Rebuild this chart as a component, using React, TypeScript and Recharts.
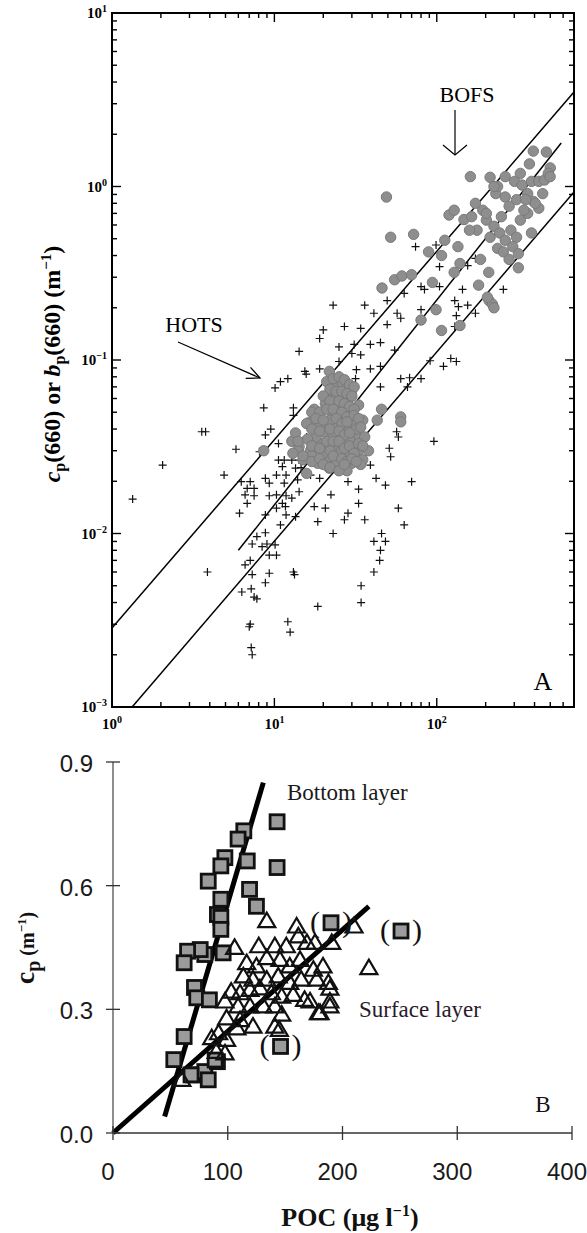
import React from 'react';
import {
  ScatterChart,
  Scatter,
  XAxis,
  YAxis,
  ReferenceLine,
  ReferenceArea,
} from 'recharts';

// ---- Panel A data: POC (x) vs cp(660)/bp(660) (y), log-log ----
const hotsPoints = [
  [74, 0.45], [99, 0.46], [104, 0.345], [173, 0.385], [155, 0.35], [80, 0.265], [84, 0.255],
  [104, 0.265], [144, 0.255], [257, 0.255], [49.5, 0.22], [63, 0.242], [129, 0.22], [136, 0.203],
  [155, 0.207], [173, 0.186], [23, 0.207], [36, 0.207], [41, 0.186], [57, 0.186], [60, 0.174],
  [80, 0.195], [132, 0.18], [129, 0.156], [20, 0.149], [27, 0.156], [34, 0.152], [49.5, 0.16],
  [19, 0.133], [25, 0.119], [31, 0.123], [39, 0.123], [45, 0.126], [14.2, 0.112], [30, 0.109],
  [34, 0.107], [55, 0.114], [25, 0.098], [91, 0.099], [122, 0.102], [132, 0.098], [110, 0.092],
  [32, 0.088], [39, 0.089], [45, 0.092], [60, 0.078], [68, 0.079], [80, 0.078], [19, 0.089],
  [15.4, 0.086], [15.7, 0.083], [10.1, 0.069], [10.9, 0.075], [12.1, 0.078], [31.6, 0.078],
  [45, 0.07], [66, 0.07], [8.6, 0.053], [13.1, 0.053], [13.1, 0.048], [21.2, 0.055], [8.8, 0.037],
  [9.5, 0.04], [10.6, 0.033], [15.8, 0.036], [3.57, 0.0386], [3.77, 0.0386], [5.8, 0.0306],
  [8.1, 0.0296], [10.6, 0.0265], [11.5, 0.0265], [12.8, 0.0265], [14.2, 0.0265], [11.2, 0.0243],
  [13.5, 0.0238], [14.6, 0.024], [2.05, 0.0248], [4.9, 0.0217], [6.25, 0.0199], [7.1, 0.0199],
  [6.8, 0.0182], [7.5, 0.0182], [8.8, 0.0208], [10.3, 0.0217], [11.8, 0.0217], [9.3, 0.0195],
  [11.5, 0.0195], [13.9, 0.0204], [16.7, 0.0217], [19, 0.0208], [6.6, 0.0167], [7.5, 0.0165],
  [9.3, 0.0165], [10.3, 0.0167], [11.8, 0.0165], [12.8, 0.016], [14.2, 0.0174], [6.1, 0.0131],
  [6.8, 0.0149], [8.8, 0.0128], [10.3, 0.014], [11.2, 0.0149], [11.7, 0.0143], [11.8, 0.0128],
  [13.5, 0.0125], [10.9, 0.0112], [17.6, 0.0143], [20.6, 0.014], [22.3, 0.0167], [28.4, 0.0131],
  [27, 0.012], [33, 0.0149], [36, 0.012], [18.5, 0.0117], [23, 0.01], [28.4, 0.0199], [33, 0.018],
  [39, 0.0248], [42.3, 0.0208], [48.3, 0.019], [51, 0.031], [52, 0.0277], [56.6, 0.0386],
  [58, 0.036], [58, 0.014], [63, 0.0112], [70, 0.0199], [96, 0.034], [45.7, 0.01], [41, 0.009],
  [48.3, 0.009], [45, 0.008], [44.5, 0.007], [41, 0.006], [34.2, 0.005], [34.2, 0.004],
  [18.5, 0.0038], [13.1, 0.006], [13.3, 0.0058], [12.1, 0.0031], [12.5, 0.0027], [7.1, 0.003],
  [7.0, 0.0029], [7.2, 0.0022], [7.3, 0.002], [6.3, 0.0046], [7.2, 0.0048], [7.5, 0.0043],
  [7.8, 0.0042], [7.3, 0.0058], [8.8, 0.0052], [9.3, 0.0059], [6.6, 0.0066], [7.1, 0.007],
  [9.3, 0.0075], [10.3, 0.0075], [8.4, 0.0084], [9.0, 0.0087], [10.1, 0.0086], [7.3, 0.0087],
  [7.8, 0.0096], [8.8, 0.0101], [3.87, 0.006], [1.34, 0.0158],
];

const bofsPoints = [
  [49, 0.87], [52, 0.51], [72, 0.53], [161, 1.14], [393, 1.6], [473, 1.58], [372, 1.35], [500, 1.28],
  [213, 1.13], [119, 0.685], [128, 0.73], [147, 0.645], [135, 0.45], [112, 0.49], [89, 0.42],
  [107, 0.4], [139, 0.36], [128, 0.32], [94, 0.28], [46, 0.26], [55, 0.29], [61, 0.305], [70, 0.31],
  [99, 0.195], [80, 0.17], [107, 0.148], [139, 0.158], [186, 0.38], [181, 0.27], [209, 0.32],
  [210, 0.22], [220, 0.21], [225, 0.2], [205, 0.23], [318, 0.34], [264, 1.14], [301, 1.07],
  [335, 1.02], [383, 1.07], [425, 1.07], [231, 0.91], [264, 0.87], [310, 0.84], [363, 0.91],
  [394, 0.82], [425, 0.75], [173, 0.8], [192, 0.73], [202, 0.64], [225, 0.59], [244, 0.54],
  [264, 0.49], [286, 0.56], [310, 0.51], [294, 0.45], [318, 0.41], [237, 0.44], [257, 0.42],
  [213, 0.51], [202, 0.7], [164, 0.67], [177, 0.56], [159, 0.56], [363, 0.7], [404, 0.8],
  [461, 1.09], [486, 1.19], [344, 0.73], [279, 0.77], [237, 1.0], [327, 1.19], [353, 0.84],
  [449, 0.91], [499, 1.14], [250, 0.67], [327, 0.64], [383, 0.54], [279, 0.38], [225, 1.0],
  [21.8, 0.086], [23.6, 0.07], [27, 0.075], [25.5, 0.0615], [29, 0.063], [20.6, 0.0615],
  [26.2, 0.073], [23, 0.064], [30, 0.067], [20.6, 0.056], [33, 0.055], [17.6, 0.052], [27, 0.049],
  [35, 0.045], [16.3, 0.0435], [21.8, 0.043], [30, 0.041], [20.6, 0.038], [25.5, 0.036],
  [31.6, 0.037], [19.5, 0.033], [24.2, 0.0317], [31.6, 0.0317], [12.8, 0.034], [14.2, 0.0317],
  [16.7, 0.03], [21.8, 0.0277], [27, 0.0284], [33, 0.03], [18.5, 0.0254], [21.8, 0.0238],
  [15.8, 0.0222], [15, 0.0266], [45.7, 0.052], [60, 0.047], [60, 0.044], [43, 0.045], [15.8, 0.043],
  [8.6, 0.03], [23, 0.049], [28.4, 0.059], [24.2, 0.041], [30, 0.0254], [35, 0.0266], [21.8, 0.0317],
  [27, 0.033], [22, 0.045], [25, 0.055], [28, 0.04], [19, 0.042], [23, 0.037], [26, 0.03],
  [29, 0.035], [32, 0.043], [18, 0.036], [20, 0.029], [24, 0.026], [28, 0.023], [17, 0.028],
  [13.5, 0.038], [14, 0.03], [36, 0.036], [38, 0.03], [34, 0.025], [29, 0.05], [24, 0.06],
  [21, 0.075], [23, 0.078], [25, 0.08], [27, 0.077], [29, 0.072], [31, 0.07], [22, 0.068],
  [24, 0.066], [26, 0.066], [28, 0.064], [30, 0.062], [20, 0.062], [22, 0.058], [25, 0.058],
  [27, 0.056], [29, 0.054], [31, 0.052], [17, 0.05], [19, 0.05], [21, 0.052], [23, 0.052],
  [26, 0.05], [28, 0.047], [31, 0.048], [33, 0.046], [18, 0.046], [20, 0.045], [24, 0.046],
  [26, 0.043], [28, 0.044], [32, 0.04], [34, 0.041], [17, 0.04], [19, 0.039], [22, 0.04],
  [25, 0.039], [27, 0.037], [29, 0.038], [14, 0.034], [16, 0.035], [17, 0.032], [19, 0.031],
  [21, 0.034], [23, 0.034], [25, 0.034], [27, 0.031], [29, 0.032], [31, 0.029], [33, 0.033],
  [35, 0.032], [13, 0.029], [15, 0.028], [17, 0.026], [19, 0.027], [22, 0.03], [23, 0.028],
  [26, 0.027], [28, 0.026], [30, 0.027], [32, 0.026], [20, 0.025], [22, 0.024], [25, 0.023],
  [27, 0.025],
];

// three regression lines (end points)
const lineUpperA = [[1, 0.00285], [700, 3.5]];
const lineMiddleA = [[6.0, 0.008], [584, 1.78]];
const lineLowerA = [[1.33, 0.001], [700, 0.93]];

const xTicksA = [1, 2, 3, 4, 5, 6, 7, 8, 9, 10, 20, 30, 40, 50, 60, 70, 80, 90, 100, 200, 300, 400, 500, 600];
const yTicksA = [
  0.001, 0.002, 0.003, 0.004, 0.005, 0.006, 0.007, 0.008, 0.009,
  0.01, 0.02, 0.03, 0.04, 0.05, 0.06, 0.07, 0.08, 0.09,
  0.1, 0.2, 0.3, 0.4, 0.5, 0.6, 0.7, 0.8, 0.9,
  1, 2, 3, 4, 5, 6, 7, 8, 9, 10,
];

// ---- Panel B data: POC vs cp ----
const bottomLayer = [
  [143, 0.755], [143, 0.644], [114, 0.733], [109, 0.713], [117, 0.66], [97.5, 0.668], [94, 0.648],
  [83, 0.611], [94, 0.567], [91, 0.53], [94, 0.523], [94, 0.494], [119, 0.591], [125, 0.55],
  [96, 0.437], [80, 0.433], [76, 0.445], [65, 0.441], [62, 0.413], [71, 0.353], [73, 0.328],
  [84, 0.323], [62, 0.234], [53, 0.178], [70, 0.141], [80, 0.149], [83, 0.129], [91, 0.173],
  [68, 0.141], [89, 0.177],
];
const bottomLayerBracketed = [[190, 0.51], [251, 0.49], [146, 0.21]];
const surfaceLayer = [
  [134, 0.514], [160, 0.501], [210, 0.501], [223, 0.4], [106, 0.449], [127, 0.453], [141, 0.453],
  [151, 0.453], [161.5, 0.477], [169, 0.461], [176, 0.461], [190.6, 0.461], [116.5, 0.412],
  [125, 0.404], [134, 0.424], [145.5, 0.42], [154, 0.404], [163, 0.42], [174.6, 0.396], [183, 0.404],
  [113.6, 0.38], [122, 0.372], [134, 0.372], [144, 0.38], [154, 0.364], [164, 0.372], [177.5, 0.372],
  [187.7, 0.364], [103, 0.343], [110.7, 0.339], [119.4, 0.347], [128, 0.351], [138, 0.339],
  [147, 0.331], [157, 0.335], [167, 0.323], [171.7, 0.319], [180.4, 0.291], [189, 0.319],
  [97.6, 0.319], [109, 0.307], [119.4, 0.307], [131, 0.307], [141, 0.307], [147, 0.287], [99, 0.278],
  [110.7, 0.274], [122, 0.258], [141, 0.258], [92, 0.242], [99, 0.226], [90, 0.197], [97.6, 0.193],
  [86, 0.23], [108, 0.254], [60, 0.129], [145, 0.25], [189, 0.307], [179, 0.291], [189, 0.35],
];
const fitBottom = [[45, 0.04], [131, 0.85]];
const fitSurface = [[0, 0], [223, 0.55]];

const xTicksB = [0, 100, 200, 300, 400];
const yTicksB = [0, 0.3, 0.6, 0.9];

const toXY = (pts: number[][]) => pts.map(([x, y]) => ({ x, y }));
const seg = (pts: number[][]) => pts.map(([x, y]) => ({ x, y })) as any;

const PLOT_A_W = 462;
const PLOT_A_H = 694;
const SERIF = '"Liberation Serif", "Times New Roman", serif';
const SANS = '"Liberation Sans", Arial, sans-serif';

const isDecade = (v: number) => Math.abs(Math.log10(v) - Math.round(Math.log10(v))) < 1e-6;
const expLabel = (v: number) => {
  const e = Math.round(Math.log10(v));
  return e < 0 ? `\u2212${-e}` : `${e}`;
};

function LogXTick({ x, y, payload }: any) {
  const v = payload.value;
  const major = isDecade(v);
  const len = major ? 9 : 5;
  return (
    <g>
      <line x1={x} y1={y} x2={x} y2={y - len} stroke="#000" strokeWidth={1.4} />
      <line x1={x} y1={y - PLOT_A_H} x2={x} y2={y - PLOT_A_H + len} stroke="#000" strokeWidth={1.4} />
      {major && (
        <text x={x} y={y + 22} textAnchor="middle" fontFamily={SERIF} fontWeight="bold" fontSize={15} fill="#000">
          10<tspan dy={-6} fontSize={10}>{expLabel(v)}</tspan>
        </text>
      )}
    </g>
  );
}

function LogYTick({ x, y, payload }: any) {
  const v = payload.value;
  const major = isDecade(v);
  const len = major ? 9 : 5;
  return (
    <g>
      <line x1={x} y1={y} x2={x + len} y2={y} stroke="#000" strokeWidth={1.4} />
      <line x1={x + PLOT_A_W} y1={y} x2={x + PLOT_A_W - len} y2={y} stroke="#000" strokeWidth={1.4} />
      {major && (
        <text x={x - 5} y={y + 5} textAnchor="end" fontFamily={SERIF} fontWeight="bold" fontSize={15} fill="#000">
          10<tspan dy={-6} fontSize={10}>{expLabel(v)}</tspan>
        </text>
      )}
    </g>
  );
}

function LinXTick({ x, y, payload }: any) {
  return (
    <g>
      <line x1={x} y1={y - 7} x2={x} y2={y + 7} stroke="#333" strokeWidth={1.3} />
      <text x={x - 5} y={y + 47} textAnchor="middle" fontFamily={SANS} fontSize={24} fill="#1a1a1a">
        {payload.value}
      </text>
    </g>
  );
}

function LinYTick({ x, y, payload }: any) {
  return (
    <g>
      <line x1={x - 7} y1={y} x2={x + 7} y2={y} stroke="#333" strokeWidth={1.3} />
      <text x={x - 20} y={y + 10} textAnchor="end" fontFamily={SANS} fontSize={24} fill="#1a1a1a">
        {Number(payload.value).toFixed(1)}
      </text>
    </g>
  );
}

const Cross = ({ cx, cy }: any) => (
  <path d={`M${cx - 4},${cy}h8M${cx},${cy - 4}v8`} stroke="#111" strokeWidth={1.2} fill="none" />
);
const Dot = ({ cx, cy }: any) => <circle cx={cx} cy={cy} r={5.2} fill="#8e8e8e" stroke="#7a7a7a" strokeWidth={1} />;
const Square = ({ cx, cy }: any) => (
  <rect x={cx - 7} y={cy - 7} width={14} height={14} fill="#9b9b9b" stroke="#111" strokeWidth={2.8} />
);
const BracketSquare = ({ cx, cy }: any) => (
  <g>
    <rect x={cx - 7} y={cy - 7} width={14} height={14} fill="#9b9b9b" stroke="#111" strokeWidth={2.8} />
    <text x={cx - 16} y={cy + 9} textAnchor="middle" fontFamily={SERIF} fontSize={30} fill="#111">(</text>
    <text x={cx + 16} y={cy + 9} textAnchor="middle" fontFamily={SERIF} fontSize={30} fill="#111">)</text>
  </g>
);
const Triangle = ({ cx, cy }: any) => (
  <path d={`M${cx},${cy - 8.5}L${cx - 8.5},${cy + 6}L${cx + 8.5},${cy + 6}Z`} fill="none" stroke="#111" strokeWidth={2.2} />
);

function PanelA() {
  return (
    <ScatterChart width={587} height={740} margin={{ top: 13, right: 13, bottom: 0, left: 0 }}>
      <XAxis
        type="number"
        dataKey="x"
        scale="log"
        domain={[1, 700]}
        ticks={xTicksA}
        interval={0}
        height={33}
        tickSize={0}
        tickMargin={0}
        axisLine={false}
        tickLine={false}
        tick={(p: any) => <LogXTick {...p} />}
      />
      <YAxis
        type="number"
        dataKey="y"
        scale="log"
        domain={[0.001, 10]}
        ticks={yTicksA}
        interval={0}
        width={112}
        tickSize={0}
        tickMargin={0}
        axisLine={false}
        tickLine={false}
        tick={(p: any) => <LogYTick {...p} />}
      />
      <ReferenceArea x1={1} x2={700} y1={0.001} y2={10} fill="none" stroke="#000" strokeWidth={2} ifOverflow="visible" />
      <Scatter data={toXY(hotsPoints)} shape={Cross} isAnimationActive={false} />
      <Scatter data={toXY(bofsPoints)} shape={Dot} isAnimationActive={false} />
      <ReferenceLine segment={seg(lineUpperA)} stroke="#000" strokeWidth={1.5} ifOverflow="visible" />
      <ReferenceLine segment={seg(lineMiddleA)} stroke="#000" strokeWidth={1.5} ifOverflow="visible" />
      <ReferenceLine segment={seg(lineLowerA)} stroke="#000" strokeWidth={1.5} ifOverflow="visible" />
    </ScatterChart>
  );
}

function PanelB() {
  return (
    <ScatterChart width={587} height={493} margin={{ top: 22, right: 15, bottom: 0, left: 0 }}>
      <XAxis
        type="number"
        dataKey="x"
        domain={[0, 400]}
        ticks={xTicksB}
        interval={0}
        height={100}
        tickSize={0}
        tickMargin={0}
        axisLine={{ stroke: '#333', strokeWidth: 1.5 }}
        tickLine={false}
        tick={(p: any) => <LinXTick {...p} />}
      />
      <YAxis
        type="number"
        dataKey="y"
        domain={[0, 0.9]}
        ticks={yTicksB}
        interval={0}
        width={113}
        tickSize={0}
        tickMargin={0}
        axisLine={{ stroke: '#444', strokeWidth: 1.2 }}
        tickLine={false}
        tick={(p: any) => <LinYTick {...p} />}
      />
      <Scatter data={toXY(bottomLayer)} shape={Square} isAnimationActive={false} />
      <Scatter data={toXY(bottomLayerBracketed)} shape={BracketSquare} isAnimationActive={false} />
      <Scatter data={toXY(surfaceLayer)} shape={Triangle} isAnimationActive={false} />
      <ReferenceLine segment={seg(fitBottom)} stroke="#000" strokeWidth={5} ifOverflow="visible" />
      <ReferenceLine segment={seg(fitSurface)} stroke="#000" strokeWidth={5} ifOverflow="visible" />
    </ScatterChart>
  );
}

function Annotations() {
  return (
    <svg width={587} height={1233} style={{ position: 'absolute', left: 0, top: 0, pointerEvents: 'none' }}>
      {/* panel A */}
      <text transform="translate(60,364) rotate(-90)" textAnchor="middle" fontFamily={SERIF} fontWeight="bold" fontSize={24} fill="#000">
        <tspan fontStyle="italic">c</tspan>
        <tspan fontSize={16} dy={5}>p</tspan>
        <tspan dy={-5}>(660) or </tspan>
        <tspan fontStyle="italic">b</tspan>
        <tspan fontSize={16} dy={5}>p</tspan>
        <tspan dy={-5}>(660) (m</tspan>
        <tspan fontSize={15} dy={-9}>{'\u22121'}</tspan>
        <tspan dy={9}>)</tspan>
      </text>
      <text x={467} y={102} textAnchor="middle" fontFamily={SERIF} fontSize={22} fill="#000">BOFS</text>
      <line x1={455} y1={110} x2={455} y2={155} stroke="#000" strokeWidth={1.2} />
      <polyline points="443,145 455,155 467,145" fill="none" stroke="#000" strokeWidth={1.2} />
      <text x={194} y={332} textAnchor="middle" fontFamily={SERIF} fontSize={22} fill="#000">HOTS</text>
      <line x1={178} y1={342} x2={260} y2={378} stroke="#000" strokeWidth={1.2} />
      <polyline points="245.7,378.3 260,378 250.5,367.3" fill="none" stroke="#000" strokeWidth={1.2} />
      <text x={543} y={690} textAnchor="middle" fontFamily={SERIF} fontSize={26} fill="#000">A</text>
      {/* panel B */}
      <text transform="translate(34,948) rotate(-90)" textAnchor="middle" fontFamily={SERIF} fontWeight="bold" fontSize={20} fill="#111">
        <tspan fontSize={28}>c</tspan>
        <tspan fontSize={20} dy={6}>p</tspan>
        <tspan dy={-6}> (m</tspan>
        <tspan fontSize={13} dy={-8}>{'\u22121'}</tspan>
        <tspan dy={8}>)</tspan>
      </text>
      <text x={287} y={800} fontFamily={SERIF} fontSize={23} fill="#1a1a1a">Bottom layer</text>
      <text x={359} y={1017} fontFamily={SERIF} fontSize={23} fill="#2a1a2a">Surface layer</text>
      <text x={543} y={1112} textAnchor="middle" fontFamily={SERIF} fontSize={23} fill="#111">B</text>
      <text x={350} y={1226} textAnchor="middle" fontFamily={SERIF} fontWeight="bold" fontSize={26} fill="#111">
        POC (μg l<tspan fontSize={16} dy={-10}>{'\u22121'}</tspan>
        <tspan dy={10}>)</tspan>
      </text>
    </svg>
  );
}

export default function App() {
  return (
    <div style={{ position: 'absolute', left: 0, top: 0, width: 587, height: 1233, background: '#fff', overflow: 'hidden' }}>
      <div style={{ position: 'absolute', left: 0, top: 0 }}>
        <PanelA />
      </div>
      <div style={{ position: 'absolute', left: 0, top: 740 }}>
        <PanelB />
      </div>
      <Annotations />
    </div>
  );
}
